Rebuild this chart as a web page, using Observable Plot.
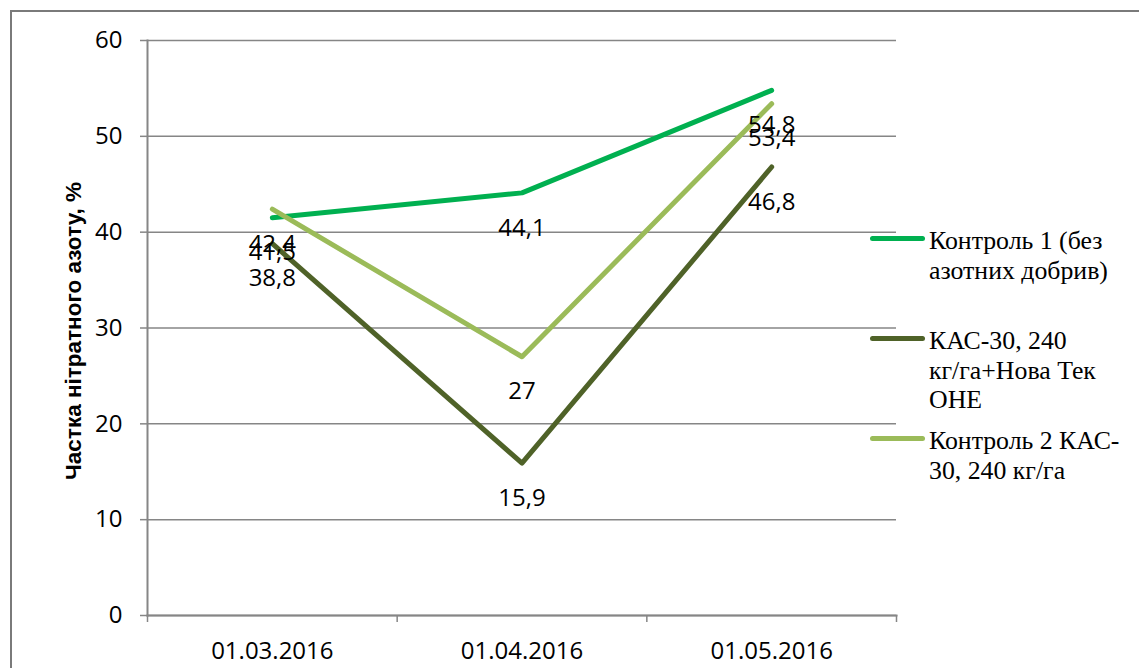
<!DOCTYPE html>
<html><head><meta charset="utf-8">
<script src="https://cdn.jsdelivr.net/npm/d3@7"></script>
<script src="https://cdn.jsdelivr.net/npm/@observablehq/plot@0.6"></script>
<style>
body{margin:0;background:#fff;overflow:hidden;}
#wrap{position:relative;width:1139px;height:668px;overflow:hidden;}
#frame{position:absolute;left:10px;top:10px;width:1140px;height:700px;border:2px solid #7a7a7a;box-sizing:border-box;pointer-events:none;}
#chart{position:absolute;left:0;top:0;}
.lg{position:absolute;left:870px;width:269px;}
.lg .sw{position:absolute;left:0;width:55px;height:5px;border-radius:3px;}
.lg .tx{position:absolute;left:59px;width:210px;font-family:"Liberation Serif",serif;font-size:25.8px;line-height:29.5px;color:#000;white-space:nowrap;}
</style>
</head><body>
<div id="wrap"><div id="chart"></div><div id="frame"></div><div id="legend"></div></div>
<script>
const dates = ["01.03.2016", "01.04.2016", "01.05.2016"];
const seriesNames = ["Контроль 1 (без азотних добрив)", "КАС-30, 240 кг/га+Нова Тек ОНЕ", "Контроль 2 КАС-30, 240 кг/га"];
const control1 = [41.5, 44.1, 54.8];
const kas = [38.8, 15.9, 46.8];
const control2 = [42.4, 27, 53.4];
const colors = ["#00B050", "#4F6228", "#9BBB59"];
const yTicks = [0, 10, 20, 30, 40, 50, 60];
const yTitle = "Частка нітратного азоту, %";

const seriesValues = [control1, kas, control2];
const rows = [];
seriesValues.forEach((vals, s) => vals.forEach((v, i) => rows.push({
  i, series: seriesNames[s], value: v, label: String(v).replace(".", ",")
})));
const bounds = [-0.5, 0.5, 1.5, 2.5];
const gray = "#868686";

const plot = Plot.plot({
  width: 1139, height: 668,
  marginLeft: 147, marginRight: 243, marginTop: 40, marginBottom: 53,
  style: {fontFamily: "'Open Sans', sans-serif", fontSize: "24px", color: "#000", background: "transparent"},
  x: {type: "linear", domain: [-0.5, 2.5]},
  y: {domain: [0, 60]},
  color: {domain: seriesNames, range: colors},
  marks: [
    Plot.gridY(yTicks, {stroke: gray, strokeOpacity: 1, strokeWidth: 1.5}),
    Plot.frame({anchor: "left", stroke: gray, strokeWidth: 2}),
    Plot.frame({anchor: "bottom", stroke: gray, strokeWidth: 2}),
    Plot.axisY(yTicks, {tickSize: 7, tickPadding: 18, stroke: gray, strokeWidth: 1.5, fill: "#000", fontSize: 24, label: null}),
    Plot.axisX(bounds, {tickSize: 7, tickFormat: () => "", stroke: gray, strokeWidth: 1.5, label: null}),
    Plot.axisX([0, 1, 2], {tickSize: 0, tickPadding: 26, tickFormat: i => dates[i], fill: "#000", fontSize: 24, label: null}),
    Plot.line(rows, {x: "i", y: "value", z: "series", stroke: "series", strokeWidth: 5, strokeLinecap: "round", strokeLinejoin: "round"}),
    Plot.text(rows, {x: "i", y: "value", text: "label", dy: 35, fill: "#000", fontSize: 24, textAnchor: "middle", lineAnchor: "middle"}),
    Plot.text([yTitle], {frameAnchor: "left", rotate: -90, dx: -74, dy: 3, textAnchor: "middle", lineAnchor: "middle", fontWeight: "bold", fontFamily: "'Liberation Sans', Arial, sans-serif", fontSize: 22.5, fill: "#000"})
  ]
});
document.getElementById("chart").appendChild(plot);

const legendLines = [["Контроль 1 (без", "азотних добрив)"], ["КАС-30, 240", "кг/га+Нова Тек", "ОНЕ"], ["Контроль 2 КАС-", "30, 240 кг/га"]];
const legendY = [238, 338, 438];
const lg = document.getElementById("legend");
seriesNames.forEach((name, k) => {
  const d = document.createElement("div");
  d.className = "lg";
  d.style.top = (legendY[k] - 12) + "px";
  const sw = document.createElement("div");
  sw.className = "sw"; sw.style.background = colors[k]; sw.style.top = "9.5px";
  const tx = document.createElement("div");
  tx.className = "tx"; tx.innerHTML = legendLines[k].join("<br>");
  d.appendChild(sw); d.appendChild(tx); lg.appendChild(d);
});
</script>
</body></html>
